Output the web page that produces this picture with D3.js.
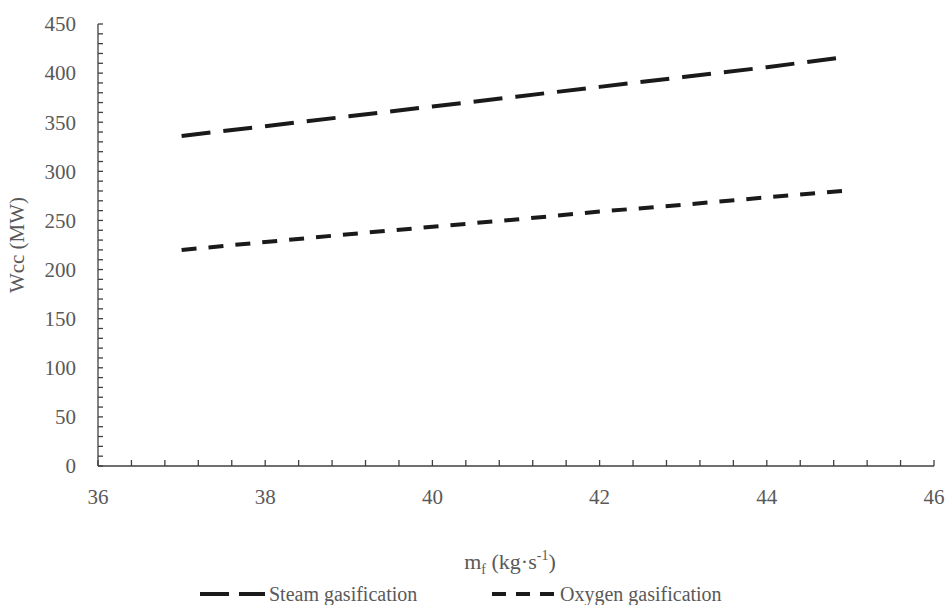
<!DOCTYPE html>
<html>
<head>
<meta charset="utf-8">
<script src="https://cdn.jsdelivr.net/npm/d3@7"></script>
<style>
  body { margin: 0; background: #fff; }
</style>
</head>
<body>
<div id="chart"></div>
<script>
// values
const massFlow = [37, 38, 39, 40, 41, 42, 43, 44, 44.9];
const steamWcc = [336, 346, 356, 366, 376, 386, 396, 406, 416];
const oxygenWcc = [220, 228, 236, 243.5, 251, 259, 266, 273.5, 280];
const seriesNames = ['Steam gasification', 'Oxygen gasification'];
const xTicks = [36, 38, 40, 42, 44, 46];
const yTicks = [0, 50, 100, 150, 200, 250, 300, 350, 400, 450];

const width = 949, height = 605;
const margin = {top: 24, left: 98, right: 15, bottom: 139};
const textColor = '#595959';
const fontFamily = "'Liberation Serif', Tinos, 'Times New Roman', 'DejaVu Serif', serif";

const svg = d3.select('#chart').append('svg')
  .attr('width', width).attr('height', height)
  .attr('font-family', fontFamily);

const x = d3.scaleLinear().domain([36, 46]).range([margin.left, width - margin.right]);
const y = d3.scaleLinear().domain([0, 450]).range([height - margin.bottom, margin.top]);

const axisColor = '#404040';

// y axis with minor ticks every 10, pointing inward
const yAxis = svg.append('g').attr('transform', 'translate(' + margin.left + ',0)');
yAxis.append('line')
  .attr('x1', 0).attr('x2', 0)
  .attr('y1', y(0)).attr('y2', y(450))
  .attr('stroke', axisColor).attr('stroke-width', 1.3);
yAxis.selectAll('.ytick').data(d3.range(0, 451, 10)).enter()
  .append('line')
  .attr('x1', 0).attr('x2', 5)
  .attr('y1', d => y(d)).attr('y2', d => y(d))
  .attr('stroke', axisColor).attr('stroke-width', 1.3);
yAxis.selectAll('.ylab').data(yTicks).enter()
  .append('text')
  .attr('x', -22).attr('y', d => y(d))
  .attr('dy', '0.35em')
  .attr('text-anchor', 'end')
  .attr('fill', textColor)
  .attr('font-size', 21)
  .text(d => d);

// x axis with minor ticks every 0.4, pointing up
const xAxis = svg.append('g').attr('transform', 'translate(0,' + y(0) + ')');
xAxis.append('line')
  .attr('x1', x(36)).attr('x2', x(46))
  .attr('y1', 0).attr('y2', 0)
  .attr('stroke', axisColor).attr('stroke-width', 1.3);
xAxis.selectAll('.xtick').data(d3.range(0, 26).map(i => 36 + i * 0.4)).enter()
  .append('line')
  .attr('x1', d => x(d)).attr('x2', d => x(d))
  .attr('y1', 0).attr('y2', -6)
  .attr('stroke', axisColor).attr('stroke-width', 1.3);
xAxis.selectAll('.xlab').data(xTicks).enter()
  .append('text')
  .attr('x', d => x(d)).attr('y', 38)
  .attr('text-anchor', 'middle')
  .attr('fill', textColor)
  .attr('font-size', 21)
  .text(d => d);

// axis titles
svg.append('text')
  .attr('transform', 'translate(24,' + ((y(0) + y(450)) / 2) + ') rotate(-90)')
  .attr('text-anchor', 'middle')
  .attr('fill', textColor)
  .attr('font-size', 21)
  .text('Wcc (MW)');

const xTitle = svg.append('text')
  .attr('x', 510).attr('y', 569)
  .attr('text-anchor', 'middle')
  .attr('fill', textColor)
  .attr('font-size', 22);
xTitle.append('tspan').text('m');
xTitle.append('tspan').attr('dy', 5).attr('font-size', 14).text('f');
xTitle.append('tspan').attr('dy', -5).text(' (kg\u00b7s');
xTitle.append('tspan').attr('dy', -9).attr('font-size', 14).text('-1');
xTitle.append('tspan').attr('dy', 9).text(')');

// lines
const dashes = ['29,13', '15,12'];
const seriesData = [steamWcc, oxygenWcc];
const line = d3.line().x(d => x(d[0])).y(d => y(d[1]));

seriesData.forEach(function(vals, i) {
  svg.append('path')
    .datum(massFlow.map((m, j) => [m, vals[j]]))
    .attr('d', line)
    .attr('fill', 'none')
    .attr('stroke', '#1a1a1a')
    .attr('stroke-width', 4)
    .attr('stroke-dasharray', dashes[i]);
});

// legend
const legendItems = [
  {name: seriesNames[0], x1: 200, x2: 265, textX: 269, dash: '29,10'},
  {name: seriesNames[1], x1: 492, x2: 556, textX: 560, dash: '14,10'}
];
const legendY = 594;
legendItems.forEach(function(item) {
  svg.append('line')
    .attr('x1', item.x1).attr('x2', item.x2)
    .attr('y1', legendY).attr('y2', legendY)
    .attr('stroke', '#1a1a1a').attr('stroke-width', 4)
    .attr('stroke-dasharray', item.dash);
  svg.append('text')
    .attr('x', item.textX).attr('y', legendY)
    .attr('dy', '0.35em')
    .attr('fill', textColor)
    .attr('font-size', 20)
    .text(item.name);
});
</script>
</body>
</html>
